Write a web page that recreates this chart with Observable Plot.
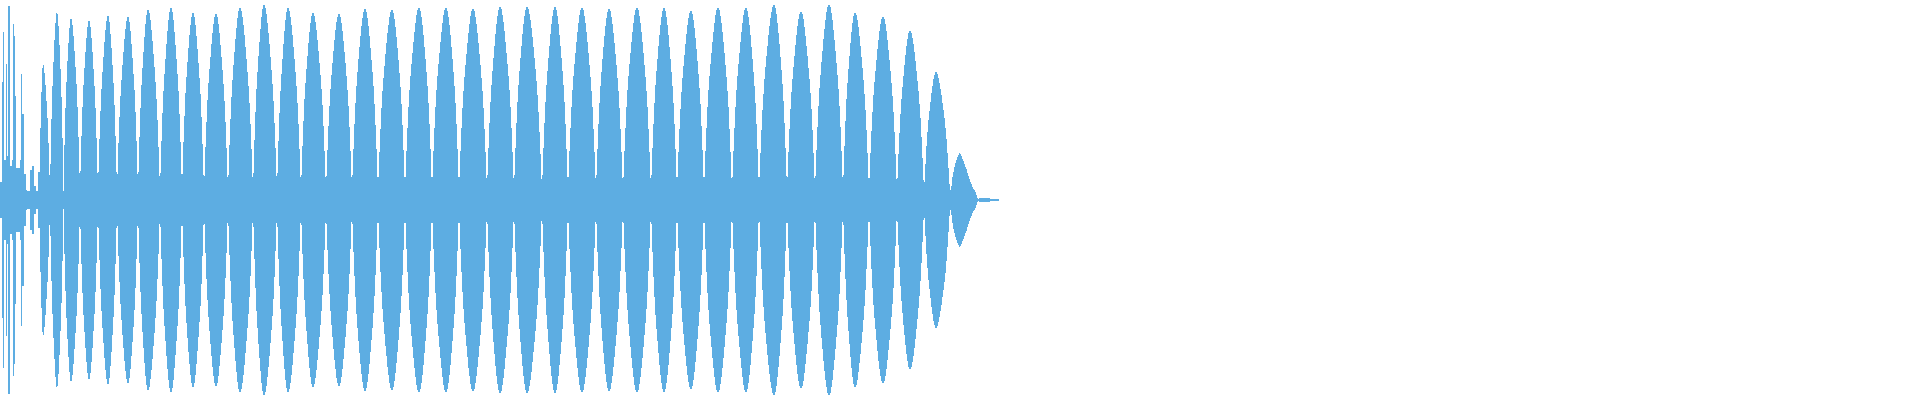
<!DOCTYPE html>
<html>
<head>
<meta charset="utf-8">
<script src="https://cdn.jsdelivr.net/npm/d3@7"></script>
<script src="https://cdn.jsdelivr.net/npm/@observablehq/plot@0.6"></script>
<style>
  html, body { margin: 0; padding: 0; background: #ffffff; }
  #chart svg { display: block; }
</style>
</head>
<body>
<div id="chart"></div>
<script>
// Waveform envelope (time in frames, amplitude normalised to [-1, 1])

// Early, irregular onset: per-frame peak amplitude
const onsetFrame = [0,1,2,3,4,5,6,7,8,9,10,11,12,13,14,15,16,17,18,19,20,21,22,23,24,25,26,27,28,29,30,31,32,33,34,35,36,37,38,39];
const onsetAmp   = [0.09,0.09,0.59,0.84,0.2,0.2,0.68,0.22,0.97,0.97,0.17,0.17,0.2,0.88,0.82,0.52,0.16,0.16,0.16,0.16,0.2,0.63,0.43,0.43,0.13,0.13,0.05,0.04,0.04,0.02,0.15,0.15,0.17,0.17,0.07,0.07,0.03,0.03,0.14,0.14];

// Beating lobes: boundaries (frames), peak positions (frames) and peak amplitude
const lobeBounds = [39.5,50,63.5,80,98,117,138,160,182,204,228,253,277,301,326,352,378,405,432,459,487,514,542,568,596,623,651,677,704,732,759,787,815,843,869,897,924,950,978];
const lobePeakAt = [43,57,71,89,108,128,148,171,193,216,240,264,288,313,339,365,392,419,446,473,500,527,555,582,609,637,664,691,718,746,774,801,829,855,883,910,936,960];
const lobePeak   = [0.68,0.94,0.91,0.90,0.925,0.92,0.955,0.965,0.94,0.935,0.965,0.98,0.965,0.94,0.935,0.96,0.955,0.965,0.965,0.96,0.97,0.97,0.97,0.965,0.96,0.965,0.965,0.95,0.965,0.965,0.98,0.945,0.98,0.94,0.92,0.85,0.64,0.238];
const lobeFloor  = 0.045;

// Measured lobe flank: position (fraction of the way from boundary to peak) and level (fraction of peak)
const flankPos   = [0, 0.09, 0.25, 0.51, 1];
const flankLevel = [0, 0.22, 0.48, 0.74, 1];

// Fade-out tail after the last lobe
const tailFrame = [960,966.7,971.7,976.7,978,979,990,991,999];
const tailAmp   = [0.238,0.15,0.075,0.025,0.006,0.008,0.008,0.004,0.004];

const color = "#5DADE2";

const onset = onsetFrame.map((f, i) => ({x: f, a: onsetAmp[i]}));
onset.push({x: onsetFrame[onsetFrame.length - 1] + 1, a: onsetAmp[onsetAmp.length - 1]});

const lobes = [];
lobePeak.forEach((p, i) => {
  const last = i === lobePeak.length - 1;
  const L = lobeBounds[i], C = lobePeakAt[i], R = lobeBounds[i + 1];
  flankPos.forEach((t, k) => {
    lobes.push({lobe: i, x: L + t * (C - L), a: Math.max(lobeFloor, flankLevel[k] * p)});
  });
  if (!last) {
    for (let k = flankPos.length - 2; k >= 0; k--) {
      lobes.push({lobe: i, x: R - flankPos[k] * (R - C), a: Math.max(lobeFloor, flankLevel[k] * p)});
    }
  }
});
const tail = tailFrame.map((f, i) => ({x: f, a: tailAmp[i]}));
const band = [{x: 0, a: lobeFloor}, {x: lobeBounds[lobeBounds.length - 2], a: lobeFloor}];

const crisp = {shapeRendering: "crispEdges"};
const chart = Plot.plot({
  width: 1920,
  height: 400,
  marginTop: 0, marginBottom: 0, marginLeft: 0, marginRight: 0,
  x: {domain: [0, 1920], axis: null},
  y: {domain: [-1, 1], axis: null},
  marks: [
    Plot.areaY(band, {x: "x", y1: d => -d.a, y2: d => d.a, fill: color, ...crisp}),
    Plot.areaY(onset, {x: "x", y1: d => -d.a, y2: d => d.a, curve: "step-after", fill: color, ...crisp}),
    Plot.areaY(lobes, {x: "x", y1: d => -d.a, y2: d => d.a, z: "lobe", curve: "monotone-x", fill: color, ...crisp}),
    Plot.areaY(tail, {x: "x", y1: d => -d.a, y2: d => d.a, curve: "monotone-x", fill: color, ...crisp})
  ]
});
document.getElementById("chart").append(chart);
</script>
</body>
</html>
